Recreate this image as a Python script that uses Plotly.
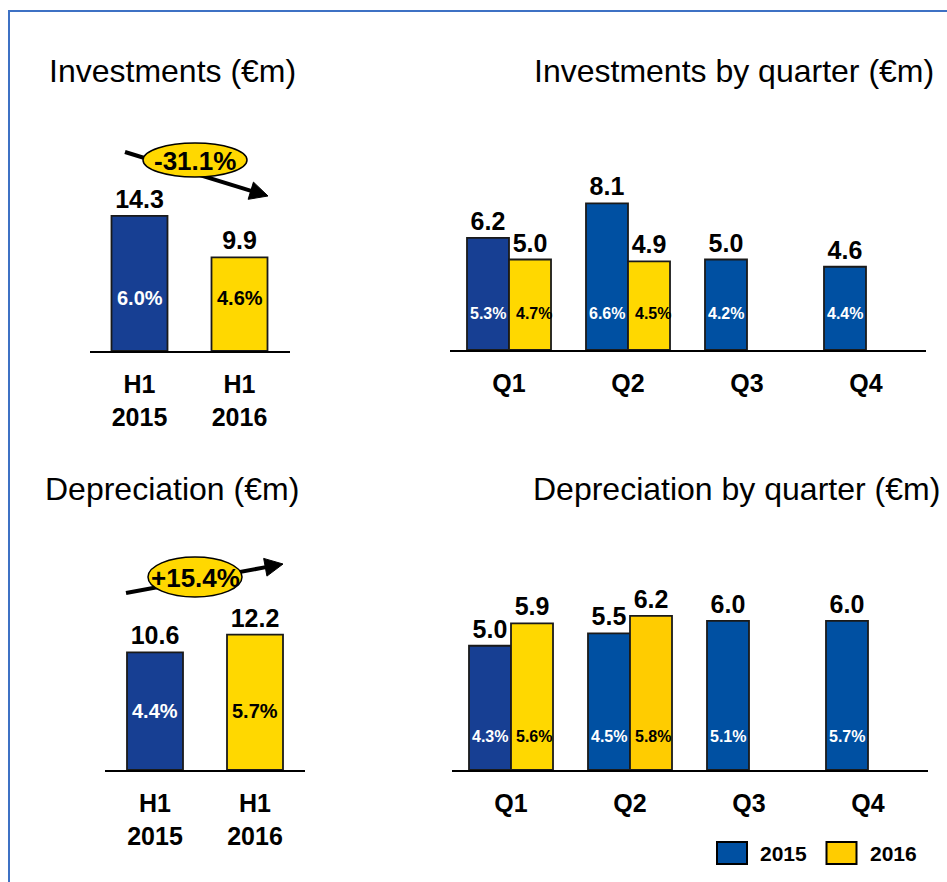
import plotly.graph_objects as go

W, H = 947, 882

# ---------------- data ----------------
h1_labels = ["H1<br>2015", "H1<br>2016"]
investments_h1 = [14.3, 9.9]
investments_h1_pct = ["6.0%", "4.6%"]
depreciation_h1 = [10.6, 12.2]
depreciation_h1_pct = ["4.4%", "5.7%"]

quarters = ["Q1", "Q2", "Q3", "Q4"]
investments_q_2015 = [6.2, 8.1, 5.0, 4.6]
investments_q_2016 = [5.0, 4.9, None, None]
investments_q_2015_pct = ["5.3%", "6.6%", "4.2%", "4.4%"]
investments_q_2016_pct = ["4.7%", "4.5%", None, None]
depreciation_q_2015 = [5.0, 5.5, 6.0, 6.0]
depreciation_q_2016 = [5.9, 6.2, None, None]
depreciation_q_2015_pct = ["4.3%", "4.5%", "5.1%", "5.7%"]
depreciation_q_2016_pct = ["5.6%", "5.8%", None, None]

investments_change = "-31.1%"
depreciation_change = "+15.4%"
series_names = ["2015", "2016"]
titles = ["Investments (€m)", "Investments by quarter (€m)",
          "Depreciation (€m)", "Depreciation by quarter (€m)"]

# ---------------- style ----------------
FONT = "Arial, 'Liberation Sans', sans-serif"
NAVY = "#173f93"
BLUE = "#0050a2"
YELLOW = "#ffd800"
ORANGE = "#ffcc00"
BORDER = "#3d71c4"


def px(x):
    return x / W


def py(y):
    return 1 - y / H


# panel geometry: x0, x1, baseline, top, px per unit
panels = {
    "1": dict(x0=89.5, x1=289.5, base=351, top=130, scale=9.45),
    "2": dict(x0=449.5, x1=925.5, base=350, top=150, scale=18.1),
    "3": dict(x0=105, x1=305, base=770, top=540, scale=11.1),
    "4": dict(x0=451.5, x1=927.5, base=770, top=580, scale=24.85),
}

fig = go.Figure()

line_style = dict(color="#1a1a1a", width=1.8)
val_font = dict(family=FONT, size=25, color="black", weight="bold")


def add_bar(ax, x, y, colors, width, offset=None):
    fig.add_trace(go.Bar(
        x=x, y=y, width=width, offset=offset,
        marker=dict(color=colors, line=line_style),
        texttemplate="%{y:.1f}", textposition="outside",
        textfont=val_font, constraintext="none", cliponaxis=False,
        xaxis="x" + ("" if ax == "1" else ax), yaxis="y" + ("" if ax == "1" else ax),
        showlegend=False, hoverinfo="skip"))


# H1 panels
add_bar("1", [0, 1], investments_h1, [NAVY, YELLOW], 0.56)
add_bar("3", [0, 1], depreciation_h1, [NAVY, YELLOW], 0.56)
# quarter panels
BW = 0.353
add_bar("2", [0, 1, 2, 3], investments_q_2015, [NAVY, BLUE, BLUE, BLUE], BW, -BW)
add_bar("2", [0, 1, 2, 3], investments_q_2016, [YELLOW, YELLOW, YELLOW, YELLOW], BW, 0)
add_bar("4", [0, 1, 2, 3], depreciation_q_2015, [NAVY, BLUE, BLUE, BLUE], BW, -BW)
add_bar("4", [0, 1, 2, 3], depreciation_q_2016, [YELLOW, ORANGE, ORANGE, ORANGE], BW, 0)

layout_axes = {}
for k, p in panels.items():
    suffix = "" if k == "1" else k
    n = 2 if k in ("1", "3") else 4
    labels = h1_labels if n == 2 else quarters
    layout_axes["xaxis" + suffix] = dict(
        domain=[px(p["x0"]), px(p["x1"])], range=[-0.5, n - 0.5],
        anchor="y" + suffix, tickvals=list(range(n)), ticktext=labels,
        showline=True, linecolor="black", linewidth=2,
        ticks="outside", ticklen=10, tickcolor="rgba(0,0,0,0)",
        tickfont=dict(family=FONT, size=25, color="black", weight="bold"),
        showgrid=False, zeroline=False, fixedrange=True)
    layout_axes["yaxis" + suffix] = dict(
        domain=[py(p["base"]), py(p["top"])],
        range=[0, (p["base"] - p["top"]) / p["scale"]],
        anchor="x" + suffix, visible=False, fixedrange=True)

annotations = []

# titles
for t, (cx, cy) in zip(titles, [(172.5, 71), (733.5, 71), (172, 489), (736.5, 489)]):
    annotations.append(dict(text=t, x=px(cx), y=py(cy), xref="paper", yref="paper",
                            xanchor="center", yanchor="middle", showarrow=False,
                            font=dict(family=FONT, size=32, color="black")))


def pct_labels(ax, xs, labels, lift_px, size, color, dx=0.0):
    p = panels[ax]
    suffix = "" if ax == "1" else ax
    for x, lab in zip(xs, labels):
        if lab is None:
            continue
        annotations.append(dict(text=lab, x=x + dx, y=lift_px / p["scale"],
                                xref="x" + suffix, yref="y" + suffix,
                                showarrow=False, xanchor="center", yanchor="middle",
                                font=dict(family=FONT, size=size, color=color, weight="bold")))


pct_labels("1", [0], investments_h1_pct[:1], 53, 20, "white")
pct_labels("1", [1], investments_h1_pct[1:], 53, 20, "black")
pct_labels("3", [0], depreciation_h1_pct[:1], 59, 20, "white")
pct_labels("3", [1], depreciation_h1_pct[1:], 59, 20, "black")
qx15 = [i - BW / 2 for i in range(4)]
qx16 = [i + BW / 2 for i in range(4)]
pct_labels("2", qx15, investments_q_2015_pct, 37, 16, "white")
pct_labels("2", qx16, investments_q_2016_pct, 37, 16, "black", dx=0.03)
pct_labels("4", qx15, depreciation_q_2015_pct, 34, 16, "white")
pct_labels("4", qx16, depreciation_q_2016_pct, 34, 16, "black", dx=0.02)

shapes = []
# outer border
shapes.append(dict(type="rect", xref="paper", yref="paper",
                   x0=px(9), x1=px(1000), y0=py(1000), y1=py(11),
                   line=dict(color=BORDER, width=2), fillcolor="rgba(0,0,0,0)"))


def arrow(x0, y0, x1, y1, head_len=18, half_w=9):
    dx, dy = x1 - x0, y1 - y0
    L = (dx * dx + dy * dy) ** 0.5
    ux, uy = dx / L, dy / L
    nx, ny = -uy, ux
    bx, by = x1 - head_len * ux, y1 - head_len * uy
    shapes.append(dict(type="line", xref="paper", yref="paper",
                       x0=px(x0), y0=py(y0), x1=px(bx + 2 * ux), y1=py(by + 2 * uy),
                       line=dict(color="black", width=4)))
    pts = [(x1, y1), (bx + half_w * nx, by + half_w * ny), (bx - half_w * nx, by - half_w * ny)]
    path = "M " + " L ".join(f"{px(a):.5f},{py(b):.5f}" for a, b in pts) + " Z"
    shapes.append(dict(type="path", xref="paper", yref="paper", path=path,
                       fillcolor="black", line=dict(color="black", width=1)))


def bubble(cx, cy, w, h, text):
    shapes.append(dict(type="circle", xref="paper", yref="paper",
                       x0=px(cx - w / 2), x1=px(cx + w / 2), y0=py(cy + h / 2), y1=py(cy - h / 2),
                       fillcolor=YELLOW, line=dict(color="black", width=1.5)))
    annotations.append(dict(text=text, x=px(cx), y=py(cy + 1), xref="paper", yref="paper",
                            showarrow=False, xanchor="center", yanchor="middle",
                            font=dict(family=FONT, size=26, color="black", weight="bold")))


arrow(125, 152, 268, 196)
bubble(195, 160, 104, 34, investments_change)
arrow(126, 593, 283, 564)
bubble(195, 577, 94, 40, depreciation_change)

# legend
for name, color, bx, tx in zip(series_names, [BLUE, ORANGE], [717, 826.5], [758, 868]):
    shapes.append(dict(type="rect", xref="paper", yref="paper",
                       x0=px(bx), x1=px(bx + 30), y0=py(864), y1=py(842),
                       fillcolor=color, line=dict(color="black", width=2)))
    annotations.append(dict(text=name, x=px(tx), y=py(853), xref="paper", yref="paper",
                            showarrow=False, xanchor="left", yanchor="middle",
                            font=dict(family=FONT, size=21, color="black", weight="bold")))

fig.update_layout(
    width=W, height=H, autosize=False,
    margin=dict(l=0, r=0, t=0, b=0, pad=0),
    paper_bgcolor="white", plot_bgcolor="white",
    barmode="overlay", showlegend=False,
    font=dict(family=FONT),
    shapes=shapes, annotations=annotations,
    **layout_axes)

fig.write_html("out.html", config={"displayModeBar": False, "staticPlot": True},
               post_script="document.body.style.margin='0';document.body.style.overflow='hidden';")
